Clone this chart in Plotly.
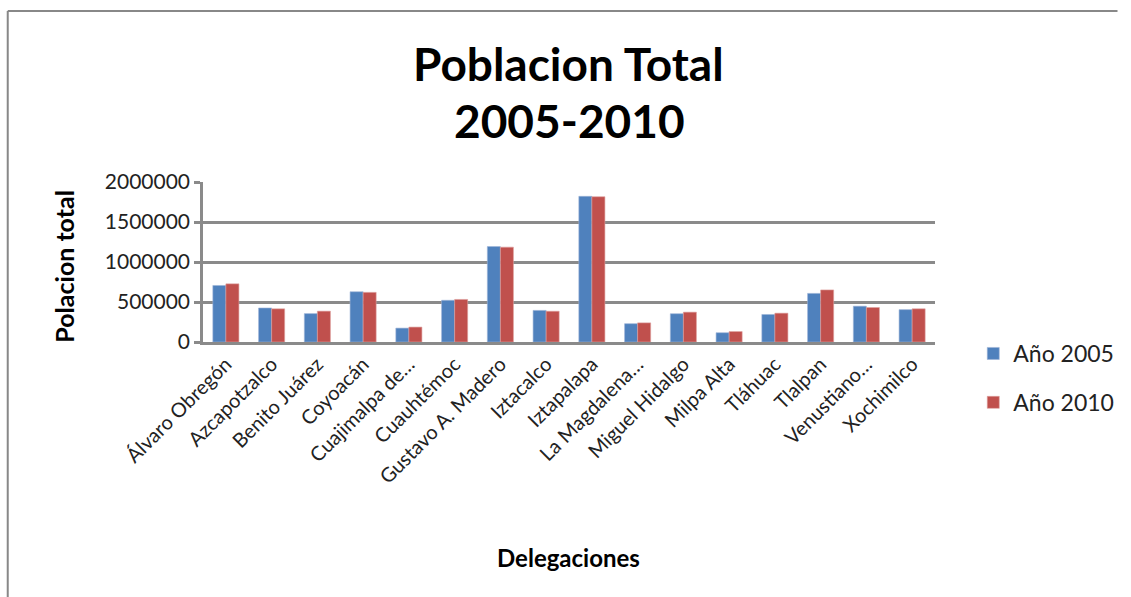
import plotly.graph_objects as go

categories = ["Álvaro Obregón", "Azcapotzalco", "Benito Juárez", "Coyoacán",
              "Cuajimalpa de…", "Cuauhtémoc", "Gustavo A. Madero", "Iztacalco",
              "Iztapalapa", "La Magdalena…", "Miguel Hidalgo", "Milpa Alta",
              "Tláhuac", "Tlalpan", "Venustiano…", "Xochimilco"]
pop_2005 = [706567, 425298, 355017, 628063, 173625, 521348, 1193161, 395025,
            1820888, 228927, 353534, 115895, 344106, 607545, 447459, 404458]
pop_2010 = [727034, 414711, 385439, 620416, 186391, 531831, 1185772, 384326,
            1815786, 239086, 372889, 130582, 360265, 650567, 430978, 415007]
series_names = ["Año 2005", "Año 2010"]
y_ticks = [0, 500000, 1000000, 1500000, 2000000]

FONT = "Lato"
W, H = 1131, 597
L, R, T, B = 203, 949, 182, 342  # plot area in px

def px_x(px):
    return (px - L) / (R - L)

def px_y(py):
    return (B - py) / (B - T)

fig = go.Figure()
fig.add_trace(go.Bar(x=categories, y=pop_2005, name=series_names[0],
                     marker=dict(color="#4F81BD", line=dict(color="#9DB4D6", width=0.6)),
                     legendgroup="a"))
fig.add_trace(go.Bar(x=categories, y=pop_2010, name=series_names[1],
                     marker=dict(color="#C0504D", line=dict(color="#DDA09E", width=0.6)),
                     legendgroup="b"))

border = dict(color="#888888", width=2)

fig.update_layout(
    width=W, height=H,
    margin=dict(l=L, r=W - R, t=T, b=H - B, pad=0),
    paper_bgcolor="white", plot_bgcolor="white",
    barmode="group", bargap=0.43, bargroupgap=0,
    font=dict(family=FONT, color="#000000"),
    showlegend=True,
    legend=dict(x=px_x(988), y=px_y(378), xanchor="left", yanchor="middle",
                font=dict(family=FONT, size=23, color="#222222"),
                tracegroupgap=16, bgcolor="rgba(0,0,0,0)"),
    xaxis=dict(showgrid=False, showline=True, linecolor="#8a8a8a", linewidth=2.5,
               tickangle=-45, tickfont=dict(family=FONT, size=20, color="#222222"),
               ticks="", fixedrange=True),
    yaxis=dict(range=[0, 2000000], tickvals=y_ticks, tickformat="d",
               showgrid=True, gridcolor="#8a8a8a", gridwidth=2.5,
               showline=True, linecolor="#8a8a8a", linewidth=2.5,
               ticks="outside", ticklen=6, tickcolor="#8a8a8a", tickwidth=2.5,
               tickfont=dict(family=FONT, size=21, color="#222222"),
               zeroline=False, fixedrange=True),
    shapes=[
        dict(type="line", xref="paper", yref="paper",
             x0=px_x(4), x1=px_x(1135), y0=px_y(11), y1=px_y(11), line=border, layer="below"),
        dict(type="line", xref="paper", yref="paper",
             x0=px_x(4), x1=px_x(4), y0=px_y(11), y1=px_y(600), line=border, layer="below"),
    ],
    annotations=[
        dict(text="<b>Poblacion Total</b>", x=px_x(575), y=px_y(63), xref="paper", yref="paper",
             showarrow=False, xanchor="center", yanchor="middle",
             font=dict(family=FONT, size=46, color="#000000")),
        dict(text="<b>2005-2010</b>", x=px_x(577), y=px_y(120), xref="paper", yref="paper",
             showarrow=False, xanchor="center", yanchor="middle",
             font=dict(family=FONT, size=46, color="#000000")),
        dict(text="<b>Polacion total</b>", x=px_x(61), y=px_y(266), xref="paper", yref="paper",
             showarrow=False, xanchor="center", yanchor="middle", textangle=-90,
             font=dict(family=FONT, size=25, color="#000000")),
        dict(text="<b>Delegaciones</b>", x=px_x(575), y=px_y(557), xref="paper", yref="paper",
             showarrow=False, xanchor="center", yanchor="middle",
             font=dict(family=FONT, size=24, color="#000000")),
    ],
)

fig.write_html("out.html",
               config={"displayModeBar": False},
               post_script="document.documentElement.style.overflow='hidden';"
                           "document.body.style.margin='0px';document.body.style.overflow='hidden';")
